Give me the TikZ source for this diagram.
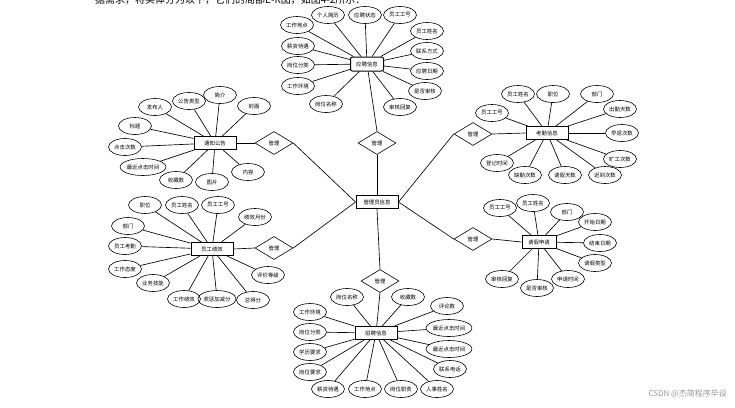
\documentclass[tikz,border=0pt]{standalone}
\usepackage{fontspec}
\newfontfamily\cjk{Noto Sans CJK SC}
\usetikzlibrary{shapes.geometric}
\begin{document}
\begin{tikzpicture}[x=1pt,y=-1pt,
  ell/.style={ellipse,draw,line width=0.6pt,minimum width=33pt,minimum height=17pt,inner sep=0pt,font=\cjk\fontsize{5.4}{6}\selectfont},
  ent/.style={rectangle,draw,line width=1pt,minimum width=42pt,minimum height=13pt,inner sep=1pt,font=\cjk\fontsize{5.4}{6}\selectfont},
  rel/.style={diamond,draw,line width=0.6pt,minimum width=38pt,minimum height=23pt,inner sep=0pt,font=\cjk\fontsize{5.4}{6}\selectfont},
  lnk/.style={draw,line width=0.65pt}]
\useasboundingbox (0,0) rectangle (735,407);
\fill[white] (0,0) rectangle (735,407);
\begin{scope}
\clip (0,0) rectangle (735,407);
\node[anchor=base west,inner sep=0pt,font=\cjk\fontsize{10}{12}\selectfont] (toptext) at (95,3) {据需求，将实体分为以下，它们的局部E-R图，如图4-2所示：};
\end{scope}
% center
\node[ent] (c) at (377,202) {管理员信息};
% diamonds
\node[rel] (d1) at (377,143) {管理};
\node[rel] (d2) at (274,143) {管理};
\node[rel] (d3) at (473,134) {管理};
\node[rel] (d4) at (274,248) {管理};
\node[rel] (d5) at (473,239) {管理};
\node[rel] (d6) at (380,281) {管理};
% entities
\node[ent,rounded corners=2pt,minimum width=33pt,minimum height=14pt] (e1) at (367,64) {应聘信息};
\node[ent] (e2) at (215,143) {通知公告};
\node[ent] (e3) at (547,133) {考勤信息};
\node[ent] (e4) at (212,249) {员工绩效};
\node[ent,minimum width=34pt] (e5) at (539,242) {请假申请};
\node[ent] (e6) at (376,333) {招聘信息};
% center links
\draw[lnk] (c.north) -- (d1.south);
\draw[lnk] (d1.north) -- (e1);
\draw[lnk] (c.west) -- (d2.east);
\draw[lnk] (d2.west) -- (e2.east);
\draw[lnk] (c.east) -- (d3.west);
\draw[lnk] (d3.east) -- (e3.west);
\draw[lnk] (c.west) -- (d4.east);
\draw[lnk] (d4.west) -- (e4.east);
\draw[lnk] (c.east) -- (d5.west);
\draw[lnk] (d5.east) -- (e5.west);
\draw[lnk] (c.south) -- (d6.north);
\draw[lnk] (d6.south) -- (e6);
% attributes
\foreach \n/\x/\y/\t in {a1/297/25/工作地点,a2/328/15/个人简历,a3/365/15/应聘状态,a4/400/15/员工工号,a5/427/31/员工姓名,a6/427/51/联系方式,a7/427/71/应聘日期,a8/425/91/是否审核,a9/400/107/审核回复,a10/326/104/岗位名称,a11/298/86/工作环境,a12/298/65/岗位分类,a13/298/46/薪资待遇}
  {\node[ell] (\n) at (\x,\y) {\t}; \draw[lnk] (e1) -- (\n);}
\foreach \n/\x/\y/\t in {b1/155/107/发布人,b2/189/101/公告类型,b3/220/95/简介,b4/254/106/封面,b5/135/126/标题,b6/125/147/点击次数,b7/143/167/最近点击时间,b8/176/180/收藏数,b9/212/182/图片,b10/248/172/内容}
  {\node[ell] (\n) at (\x,\y) {\t}; \draw[lnk] (e2) -- (\n);}
\foreach \n/\x/\y/\t in {k1/492/113/员工工号,k2/518/94/员工姓名,k3/553/94/职位,k4/597/94/部门,k5/620/109/出勤天数,k6/622/133/早退次数,k7/620/159/旷工次数,k8/497/163/登记时间,k9/525/175/缺勤次数,k10/565/175/请假天数,k11/605/175/迟到次数}
  {\node[ell] (\n) at (\x,\y) {\t}; \draw[lnk] (e3) -- (\n);}
\foreach \n/\x/\y/\t in {p1/145/205/职位,p2/182/205/员工姓名,p3/218/205/员工工号,p4/255/217/绩效月份,p5/128/226/部门,p6/125/246/员工考勤,p7/125/269/工作态度,p8/153/283/业务技能,p9/184/299/工作绩效,p10/217/299/奖惩加减分,p11/253/300/总得分,p12/268/275/评价等级}
  {\node[ell] (\n) at (\x,\y) {\t}; \draw[lnk] (e4) -- (\n);}
\foreach \n/\x/\y/\t in {q1/500/208/员工工号,q2/533/203/员工姓名,q3/567/212/部门,q4/595/222/开始日期,q5/600/243/结束日期,q6/595/263/请假类型,q7/568/279/申请时间,q8/537/288/是否审核,q9/502/279/审核回复}
  {\node[ell] (\n) at (\x,\y) {\t}; \draw[lnk] (e5) -- (\n);}
\foreach \n/\x/\y/\t in {r1/347/297/岗位名称,r2/408/297/收藏数,r3/447/306/评论数,r4/449/328/最近点击时间,r5/449/349/最近点击时间,r6/450/369/联系电话,r7/437/389/人事姓名,r8/401/389/岗位职责,r9/365/389/工作地点,r10/328/389/薪资待遇,r11/310/372/岗位要求,r12/310/352/学历要求,r13/310/332/岗位分类,r14/310/312/工作环境}
  {\node[ell] (\n) at (\x,\y) {\t}; \draw[lnk] (e6) -- (\n);}
\node[anchor=east,inner sep=0pt,text=black!40,font=\cjk\fontsize{8}{9}\selectfont] (wm) at (727,394) {CSDN @杰简程序毕设};
\end{tikzpicture}
\end{document}
